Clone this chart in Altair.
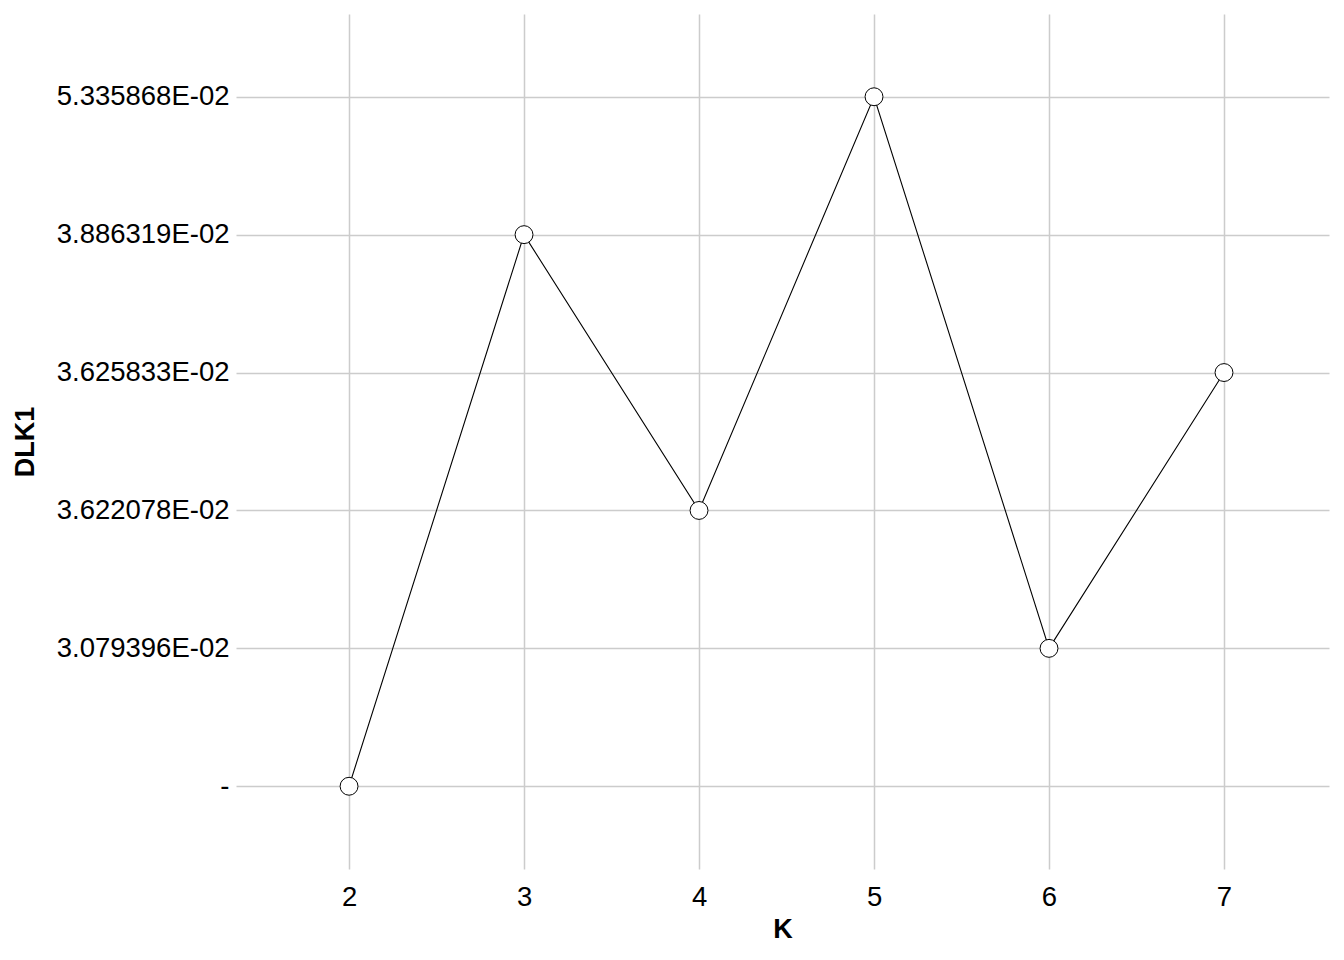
import altair as alt
import pandas as pd

k_values = [2, 3, 4, 5, 6, 7]
dlk1_labels = ["-", "3.886319E-02", "3.622078E-02", "5.335868E-02", "3.079396E-02", "3.625833E-02"]
y_order = ["5.335868E-02", "3.886319E-02", "3.625833E-02", "3.622078E-02", "3.079396E-02", "-"]

df = pd.DataFrame({"K": k_values, "DLK1": dlk1_labels})

font = "Liberation Sans"
x_enc = alt.X("K:Q", scale=alt.Scale(domain=[1.354, 7.6], nice=False, zero=False),
              axis=alt.Axis(values=k_values, format="d", title="K", grid=True,
                            gridColor="#cccccc", gridWidth=1.5,
                            domain=False, ticks=False, labelPadding=14,
                            labelFont=font, labelFontSize=27.5, labelColor="black",
                            titleFont=font, titleFontSize=27, titleFontWeight="bold",
                            titleColor="black", titlePadding=6))
y_enc = alt.Y("DLK1:O", sort=y_order,
              scale=alt.Scale(type="point", padding=0.6),
              axis=alt.Axis(title="DLK1", grid=True, domain=False, ticks=False,
                            gridColor="#cccccc", gridWidth=1.5,
                            labelFont=font, labelFontSize=27.5, labelColor="black",
                            titleFont=font, titleFontSize=27, titleFontWeight="bold",
                            titleColor="black",
                            labelPadding=7, titlePadding=17))

line = alt.Chart(df).mark_line(color="black", strokeWidth=1.1).encode(
    x=x_enc, y=y_enc, order=alt.Order("K:Q"))
pts = alt.Chart(df).mark_point(shape="circle", filled=True, fill="white",
                                stroke="black", strokeWidth=1, size=320, opacity=1).encode(x=x_enc, y=y_enc)

chart = (line + pts).properties(
    width=1093, height=855,
    autosize=alt.AutoSizeParams(type="none"),
    padding={"left": 228, "top": 6, "right": 4, "bottom": 82},
).configure_view(stroke=None)

chart.save("out.html", embed_options={"renderer": "svg", "actions": False})
